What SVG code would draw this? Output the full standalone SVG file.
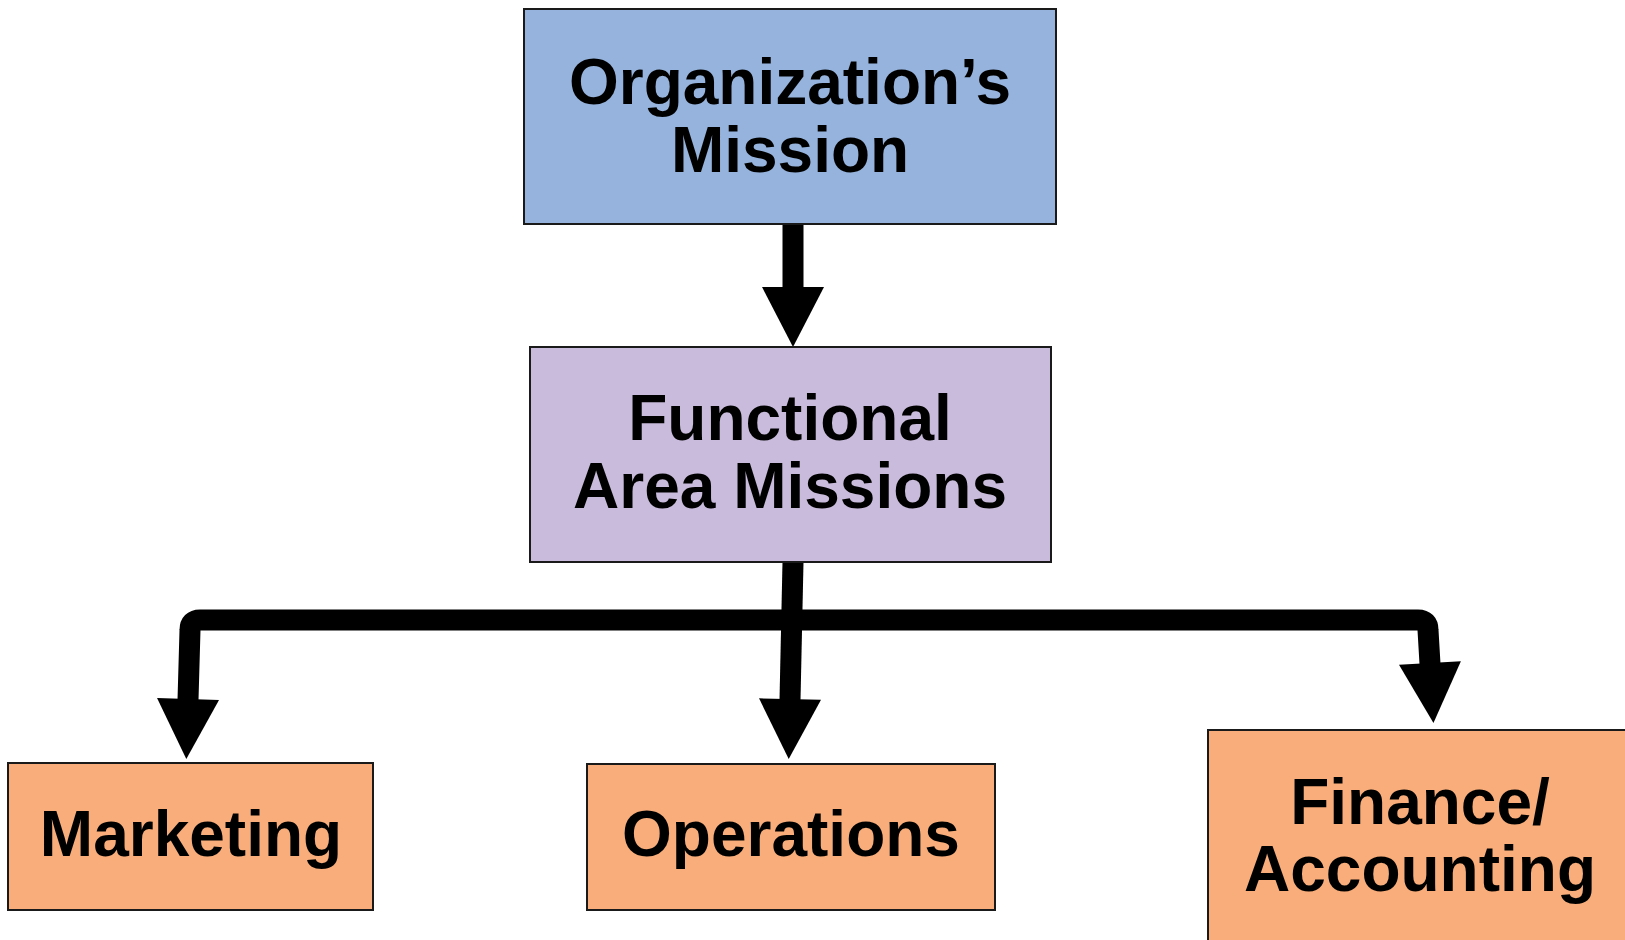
<svg xmlns="http://www.w3.org/2000/svg" width="1625" height="940" viewBox="0 0 1625 940">
<style>
.box{stroke:#1a1a1a;stroke-width:2}
.t{font-family:"Liberation Sans",Arial,sans-serif;font-weight:bold;font-size:64px;fill:#000;text-anchor:middle}
.c{fill:none;stroke:#000;stroke-width:21;stroke-linejoin:round}
</style>
<defs>
<marker id="ah" markerUnits="userSpaceOnUse" markerWidth="60" markerHeight="62" viewBox="0 0 60 62" refX="1" refY="31" orient="auto" overflow="visible">
<path d="M0,0 L60,31 L0,62 z" fill="#000"/>
</marker>
</defs>
<rect width="1625" height="940" fill="#fff"/>
<g id="connectors">
<path class="c" d="M793,224 L793,288" marker-end="url(#ah)"/>
<path class="c" d="M793,562 L790,700" marker-end="url(#ah)"/>
<path class="c" d="M793,620 H200 Q190,620 190,630 L188,700" marker-end="url(#ah)"/>
<path class="c" d="M793,620 H1418 Q1428,620 1428,630 L1430,664" marker-end="url(#ah)"/>
</g>
<g id="node-mission">
<rect class="box" x="524" y="9" width="532" height="215" fill="#95B3DC"/>
<text class="t" x="790" y="104">Organization’s</text>
<text class="t" x="790" y="172">Mission</text>
</g>
<g id="node-functional">
<rect class="box" x="530" y="347" width="521" height="215" fill="#C9BBDB"/>
<text class="t" x="790" y="440">Functional</text>
<text class="t" x="790" y="508">Area Missions</text>
</g>
<g id="node-marketing">
<rect class="box" x="8" y="763" width="365" height="147" fill="#F8AD7A"/>
<text class="t" x="191" y="856">Marketing</text>
</g>
<g id="node-operations">
<rect class="box" x="587" y="764" width="408" height="146" fill="#F8AD7A"/>
<text class="t" x="791" y="856">Operations</text>
</g>
<g id="node-finance">
<rect class="box" x="1208" y="730" width="430" height="220" fill="#F8AD7A"/>
<text class="t" x="1420" y="824">Finance/</text>
<text class="t" x="1420" y="891">Accounting</text>
</g>
</svg>
